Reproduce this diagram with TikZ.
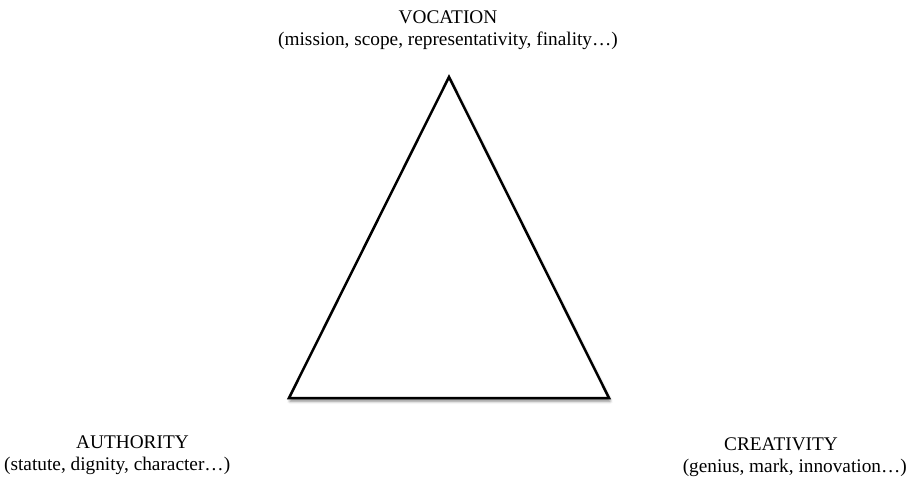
\documentclass[tikz,border=0pt]{standalone}
\usepackage{fontspec}
\setmainfont{Liberation Serif}
\usetikzlibrary{shadows.blur}
\begin{document}
\begin{tikzpicture}[x=1pt,y=-1pt,
  lbl/.style={inner sep=0pt,font=\fontsize{19.3}{22}\selectfont},
  tri/.style={draw=black,line width=2.5pt,fill=white,line join=miter,
    blur shadow={shadow xshift=1pt,shadow yshift=-3pt,shadow blur radius=3pt,shadow opacity=50}}]
\useasboundingbox (0,0) rectangle (911,477);
\coordinate (top) at (449,77);
\coordinate (bl) at (289,398);
\coordinate (br) at (609,398);
\path[tri] (top) -- (bl) -- (br) -- cycle;
\node[lbl,anchor=base] (voc) at (448,23) {VOCATION};
\node[lbl,anchor=base] (vocd) at (448,45) {(mission, scope, representativity, finality…)};
\node[lbl,anchor=base] (aut) at (132.5,448) {AUTHORITY};
\node[lbl,anchor=base west] (autd) at (4,470) {(statute, dignity, character…)};
\node[lbl,anchor=base] (cre) at (781,450) {CREATIVITY};
\node[lbl,anchor=base east] (cred) at (907,472) {(genius, mark, innovation…)};
\end{tikzpicture}
\end{document}
